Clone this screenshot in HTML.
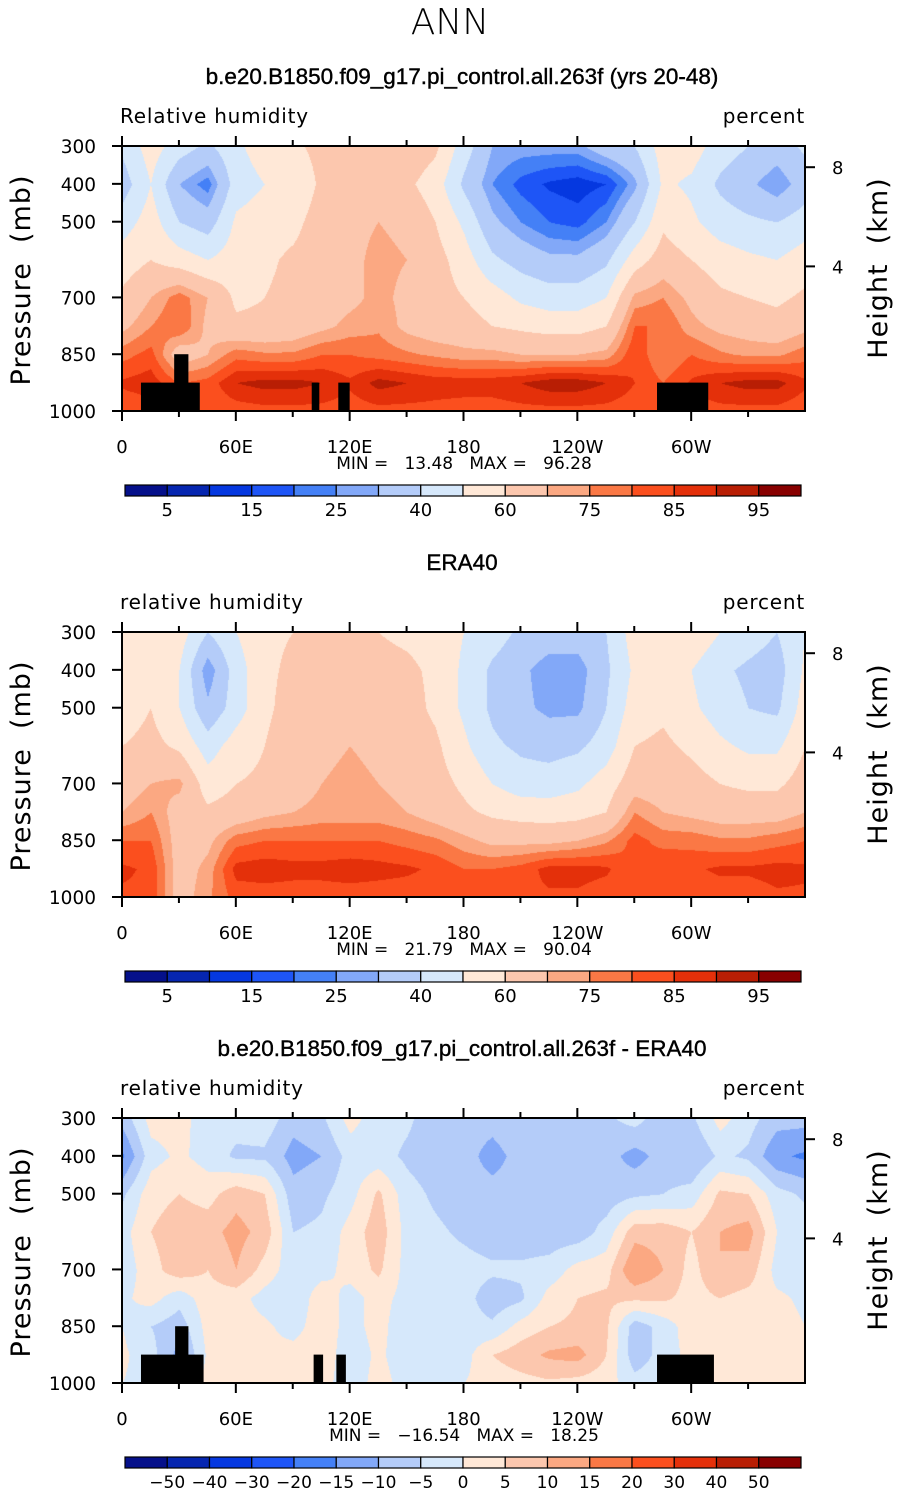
<!DOCTYPE html>
<html><head><meta charset="utf-8"><style>
html,body{margin:0;padding:0;background:#fff;}
#root{position:relative;width:899px;height:1493px;overflow:hidden;font-family:"DejaVu Sans","Liberation Sans",sans-serif;}
canvas{position:absolute;left:0;}
svg{position:absolute;left:0;top:0;}
.pre{white-space:pre;}
</style></head><body>
<div id="root">
<canvas id="c0" width="683" height="265" style="left:122px;top:146px"></canvas>
<canvas id="c1" width="683" height="265" style="left:122px;top:632px"></canvas>
<canvas id="c2" width="683" height="265" style="left:122px;top:1118px"></canvas>
<svg id="s" width="899" height="1493"></svg>
</div>
<script>
const lons = [0,15,30,45,60,75,90,105,120,135,150,165,180,195,210,225,240,255,270,285,300,315,330,345,360];
const pLevels = [300,400,500,600,700,775,850,925,1000];
const rhModel = [
[42,55,45,38,48,55,58,63,65,66,67,62,45,30,28,28,28,36,40,55,55,45,40,35,42],
[35,50,30,22,45,50,52,62,63,64,62,55,38,25,18,14,12,15,28,52,48,38,32,25,35],
[45,55,40,35,52,55,57,65,68,70,68,60,48,32,25,20,18,25,40,58,52,45,42,40,45],
[55,60,55,50,55,58,62,66,68,72,70,64,55,42,36,32,32,38,55,65,60,55,52,50,55],
[62,70,78,70,58,60,63,66,68,72,68,64,60,55,48,45,45,50,72,75,68,62,60,58,62],
[68,75,80,68,62,62,64,68,72,74,68,65,64,60,58,56,56,60,80,80,72,68,66,64,68],
[78,82,65,70,78,76,76,80,80,78,76,74,72,72,70,70,70,72,84,75,80,76,74,74,78],
[86,88,80,82,90,92,92,90,86,92,90,88,88,88,90,93,93,90,85,80,86,90,92,92,86],
[81,82,81,81,82,83,83,83,82,83,83,83,82,82,83,83,83,83,82,80,82,83,83,83,81]];
const rhObs = [
[50,58,55,40,50,58,60,65,62,60,58,56,50,45,38,35,35,40,55,60,58,50,45,40,50],
[52,58,50,25,45,58,62,62,65,63,62,58,48,38,32,26,26,38,52,55,50,42,38,35,52],
[55,60,50,32,45,58,64,65,66,65,64,58,48,38,32,28,28,40,55,58,52,45,40,38,55],
[60,63,58,45,55,60,66,68,70,68,66,62,52,42,38,36,38,45,60,62,58,52,48,48,60],
[65,70,72,55,60,62,66,70,72,70,68,64,58,50,45,45,48,55,66,65,64,60,58,58,65],
[70,75,66,62,64,68,70,72,72,72,70,66,62,58,56,55,56,60,75,70,68,66,66,66,70],
[80,80,66,68,78,80,80,80,80,80,78,76,72,68,68,68,70,74,82,78,78,76,76,78,80],
[86,84,66,72,87,88,87,87,88,87,86,84,80,80,82,87,87,86,80,85,84,86,86,87,86],
[84,84,66,74,82,82,82,82,82,82,82,82,82,82,84,84,84,82,80,84,82,82,82,84,84]];
const rhDiff = [
[-8,2,2,-3,-3,-2,-8,-6,2,-3,-4,-8,-8,-8,-6,-8,-8,-6,-3,-8,-6,2,-3,-8,-8],
[-16,-2,1,-2,-6,-6,-12,-10,-3,-3,-6,-8,-8,-12,-8,-8,-6,-8,-12,-8,-10,-4,-6,-14,-16],
[-6,3,5,3,8,5,-8,-6,-2,6,-3,-6,-8,-8,-8,-8,-6,-8,-6,-5,-3,6,5,-3,-6],
[-2,5,8,8,12,8,-5,-4,2,8,-2,-4,-6,-8,-8,-8,-8,-3,8,8,5,10,12,0,-2],
[-3,3,8,5,10,3,-3,-2,2,6,-2,-3,-3,-4,-4,-3,2,3,15,10,3,10,8,-2,-3],
[-1,2,-3,3,2,-2,-4,3,-2,2,-2,-3,-3,-8,-6,2,5,6,6,6,3,5,3,1,-1],
[0,-5,-8,2,2,1,-2,3,-2,2,-4,-3,-3,-4,2,5,6,6,-8,-3,3,5,2,2,0],
[1,-3,-12,1,2,1,2,3,-3,1,-3,-2,-2,5,8,11,12,5,-8,-3,2,5,3,2,1],
[0,-2,-4,2,2,2,3,2,-3,2,-2,-1,0,2,3,4,3,2,-3,-2,2,3,2,1,0]];
const levelsRH = [5,10,15,20,25,30,40,50,60,70,75,80,85,90,95];
const levelsDiff = [-50,-40,-30,-20,-15,-10,-5,0,5,10,15,20,30,40,50];
const labelsRH = ["5","15","25","40","60","75","85","95"];
const labelsDiff = ["−50","−40","−30","−20","−15","−10","−5","0","5","10","15","20","30","40","50"];
const palette = ["#05108a","#0626b0","#0538e0","#1e55f6","#4480f6","#82a8f8","#b4ccf9","#d6e8fb","#ffe8d7","#fcc7ae","#fba882","#fa7845","#fb4f1e","#e4300a","#b81e04","#880000"];
const topoBoxes = [[10,41,925],[27.5,35,850],[100,104,925],[114,120,925],[282,309,925]];
const topoBoxesDiff = [[10,43,925],[28,35,850],[101,106,925],[113,118,925],[282,312,925]];
const xTickLabels = ["0","60E","120E","180","120W","60W"];
const pTicks = [300,400,500,700,850,1000];
const hTicks = [[8,356],[4,618]];

const PX0=122, PW=683, PH=265;
function xOf(lon){return PX0+lon/360*PW;}
function yOf(p,top){return top+(p-300)/700*PH;}
function interp(grid,lon,p){
  let i=Math.min(lons.length-2,Math.floor(lon/15)); let fx=(lon-lons[i])/15;
  let j=0; while(j<pLevels.length-2 && p>pLevels[j+1]) j++;
  let fy=(p-pLevels[j])/(pLevels[j+1]-pLevels[j]);
  const a=grid[j][i],b=grid[j][i+1],c=grid[j+1][i],d=grid[j+1][i+1];
  return (a*(1-fx)+b*fx)*(1-fy)+(c*(1-fx)+d*fx)*fy;
}
function colorFor(v,levels){let k=0;while(k<levels.length&&v>=levels[k])k++;return palette[k];}
function drawCanvas(id,grid,levels){
  const ctx=document.getElementById(id).getContext('2d');
  for(let py=0;py<PH;py+=1){
    const p=300+py/PH*700;
    let runC=null,runX=0;
    for(let px=0;px<=PW;px++){
      let col=null;
      if(px<PW){const lon=px/PW*360;col=colorFor(interp(grid,lon,p),levels);}
      if(col!==runC){ if(runC){ctx.fillStyle=runC;ctx.fillRect(runX,py,px-runX,1);} runC=col;runX=px;}
    }
  }
}
drawCanvas('c0',rhModel,levelsRH);
drawCanvas('c1',rhObs,levelsRH);
drawCanvas('c2',rhDiff,levelsDiff);

const NS="http://www.w3.org/2000/svg";
const svg=document.getElementById('s');
function mk(tag,attrs,parent){const e=document.createElementNS(NS,tag);for(const k in attrs)e.setAttribute(k,attrs[k]);(parent||svg).appendChild(e);return e;}
function txt(s,x,y,size,anchor,parent,extra){const e=mk('text',Object.assign({x:x,y:y,'font-size':size,'text-anchor':anchor||'middle',fill:'#000'},extra||{}),parent);e.textContent=s;return e;}

const t0=txt("ANN",450,34,36,'middle',null,{'font-family':'DejaVu Sans ExtraLight, DejaVu Sans, sans-serif','font-weight':'200'});



const panels=[
 {top:146,title:"b.e20.B1850.f09_g17.pi_control.all.263f (yrs 20-48)",left:"Relative humidity",min:"13.48",max:"96.28",topo:topoBoxes,levels:levelsRH,labels:labelsRH,name:'model'},
 {top:632,title:"ERA40",left:"relative humidity",min:"21.79",max:"90.04",topo:null,levels:levelsRH,labels:labelsRH,name:'era40'},
 {top:1118,title:"b.e20.B1850.f09_g17.pi_control.all.263f - ERA40",left:"relative humidity",min:"−16.54",max:"18.25",topo:topoBoxesDiff,levels:levelsDiff,labels:labelsDiff,name:'diff'}];

panels.forEach((P,pi)=>{
  const g=mk('g',{});
  
  
  const T=P.top;
  const tt=txt(P.title,462,T-62,22.5,'middle',g,{'font-family':'Liberation Sans, sans-serif',stroke:'#000','stroke-width':'0.4'});
  
  
  const lt=txt(P.left,120,T-23,20,'start',g,{'letter-spacing':'0.8'});
  
  
  const ut=txt("percent",805,T-23,20,'end',g,{'letter-spacing':'0.8'});
  
  
  if(P.topo){P.topo.forEach(b=>{
    const r=mk('rect',{x:xOf(b[0]),y:yOf(b[2],T),width:xOf(b[1])-xOf(b[0]),height:yOf(1000,T)-yOf(b[2],T),fill:'#000'},g);
    
    
  });}
  const fr=mk('rect',{x:PX0,y:T,width:PW,height:PH,fill:'none',stroke:'#000','stroke-width':2},g);
  
  
  for(let lon=0;lon<360;lon+=30){
    const major=lon%60===0, L=major?10:6, x=xOf(lon);
    mk('line',{x1:x,x2:x,y1:T-L,y2:T,stroke:'#000','stroke-width':2},g);
    mk('line',{x1:x,x2:x,y1:T+PH,y2:T+PH+L,stroke:'#000','stroke-width':2},g);
    if(major){const xl=txt(xTickLabels[lon/60],x,T+PH+42,18,'middle',g);
      
      }
  }
  pTicks.forEach(p=>{const y=yOf(p,T);
    mk('line',{x1:PX0-10,x2:PX0,y1:y,y2:y,stroke:'#000','stroke-width':2},g);
    const yl=txt(String(p),96,y+7,18.5,'end',g);
    
    });
  hTicks.forEach(h=>{const y=T+(h[1]-300)/700*PH;
    mk('line',{x1:PX0+PW,x2:PX0+PW+10,y1:y,y2:y,stroke:'#000','stroke-width':2},g);
    const hl=txt(String(h[0]),832,y+7,18,'start',g);
    
    });
  const yt=txt("Pressure  (mb)",0,0,27,'middle',g,{transform:`translate(30,${T+134}) rotate(-90)`,'letter-spacing':'1','class':'pre'});
  
  
  const ht=txt("Height  (km)",0,0,27,'middle',g,{transform:`translate(887,${T+122}) rotate(-90)`,'letter-spacing':'1','class':'pre'});
  
  
  const mm=txt(`MIN =   ${P.min}   MAX =   ${P.max}`,464,T+323,17,'middle',g,{'class':'pre'});
  
  
  const cb=mk('g',{},g);
  
  
  const cx0=125,cw=676,cy=T+339,ch=11,n=palette.length,bw=cw/n;
  palette.forEach((c,k)=>{const r=mk('rect',{x:cx0+k*bw,y:cy,width:bw,height:ch,fill:c,stroke:'#000','stroke-width':1.2},cb);
    
    });
  if(P.levels===levelsRH){
    P.labels.forEach((s,k)=>{const l=txt(s,cx0+(2*k+1)*bw,cy+31,18,'middle',cb);
      
      });
  } else {
    P.labels.forEach((s,k)=>{const l=txt(s,cx0+(k+1)*bw,cy+31,17,'middle',cb);
      
      });
  }
});
</script>
</body></html>
